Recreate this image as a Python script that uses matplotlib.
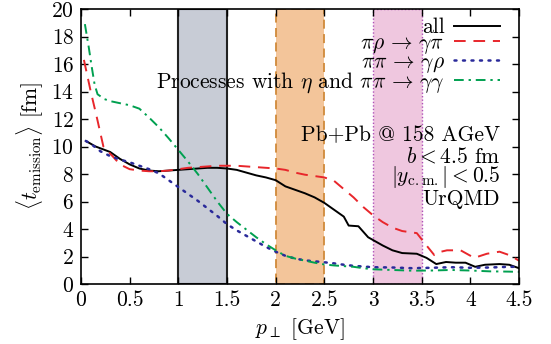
import matplotlib
matplotlib.use("Agg")
import matplotlib.pyplot as plt

plt.rcParams["font.family"] = "serif"
plt.rcParams["font.serif"] = ["cmr10"]
plt.rcParams["mathtext.fontset"] = "cm"
plt.rcParams["axes.formatter.use_mathtext"] = True
FS = 15.5
plt.rcParams["font.size"] = FS

# <t_emission> vs p_T
p_all = [0.05, 0.15, 0.3, 0.4, 0.5, 0.6, 0.7, 0.8, 0.9, 1.0, 1.1, 1.2, 1.3, 1.4, 1.5,
         1.6, 1.7, 1.8, 1.9, 2.0, 2.1, 2.2, 2.3, 2.4, 2.5, 2.6, 2.7, 2.75, 2.85, 2.95,
         3.1, 3.2, 3.3, 3.45, 3.55, 3.65, 3.75, 3.85, 3.95, 4.05, 4.15, 4.3, 4.4, 4.5]
t_all = [10.4, 10.0, 9.6, 9.1, 8.7, 8.4, 8.25, 8.2, 8.25, 8.3, 8.35, 8.4, 8.45, 8.45, 8.4,
         8.3, 8.1, 7.9, 7.75, 7.55, 7.1, 6.85, 6.6, 6.3, 5.9, 5.4, 4.9, 4.25, 4.2, 3.4,
         2.8, 2.45, 2.25, 2.2, 1.9, 1.45, 1.6, 1.55, 1.55, 1.25, 1.4, 1.45, 1.4, 1.15]

p_pirho = [0.03, 0.1, 0.16, 0.23, 0.33, 0.4, 0.5, 0.6, 0.7, 0.8, 0.9, 1.0, 1.1, 1.2, 1.3,
           1.4, 1.5, 1.6, 1.7, 1.8, 1.9, 2.0, 2.1, 2.2, 2.3, 2.4, 2.5, 2.6, 2.7, 2.8, 2.9,
           3.0, 3.1, 3.2, 3.3, 3.45, 3.55, 3.63, 3.7, 3.76, 3.9, 4.04, 4.17, 4.3, 4.4, 4.5]
t_pirho = [16.3, 14.0, 12.2, 10.0, 9.25, 8.7, 8.35, 8.25, 8.2, 8.2, 8.25, 8.35, 8.45, 8.5, 8.55,
           8.6, 8.6, 8.6, 8.55, 8.5, 8.45, 8.4, 8.3, 8.1, 7.95, 7.85, 7.75, 7.5, 6.9, 6.3, 5.6,
           5.0, 4.5, 4.1, 3.85, 3.7, 2.8, 2.1, 2.35, 2.45, 2.45, 1.9, 2.2, 2.35, 2.1, 1.7]

p_pipi = [0.05, 0.1, 0.2, 0.3, 0.4, 0.5, 0.6, 0.7, 0.8, 0.9, 1.0, 1.1, 1.2, 1.3, 1.4, 1.5,
          1.6, 1.7, 1.8, 1.9, 2.0, 2.1, 2.2, 2.3, 2.4, 2.5, 2.6, 2.7, 2.8, 2.9, 3.0, 3.2,
          3.4, 3.6, 3.8, 4.0, 4.2, 4.4, 4.5]
t_pipi = [10.4, 10.2, 9.65, 9.3, 9.05, 8.85, 8.6, 8.35, 8.05, 7.55, 7.05, 6.55, 6.05, 5.5, 4.95, 4.35,
          3.9, 3.5, 3.1, 2.7, 2.35, 2.05, 1.85, 1.72, 1.65, 1.58, 1.5, 1.4, 1.32, 1.27, 1.22, 1.2,
          1.15, 1.18, 1.22, 1.18, 1.2, 1.25, 1.25]

p_eta = [0.04, 0.08, 0.11, 0.14, 0.17, 0.24, 0.3, 0.4, 0.5, 0.6, 0.7, 0.8, 0.9, 1.0, 1.1,
         1.2, 1.3, 1.4, 1.5, 1.6, 1.7, 1.8, 1.9, 2.0, 2.1, 2.2, 2.3, 2.4, 2.5, 2.6, 2.7,
         2.8, 2.9, 3.0, 3.2, 3.4, 3.6, 3.8, 4.0, 4.2, 4.4, 4.5]
t_eta = [18.9, 17.2, 15.8, 14.5, 13.8, 13.45, 13.3, 13.15, 13.0, 12.75, 12.1, 11.4, 10.6, 9.75, 8.9,
         8.0, 7.0, 6.0, 5.1, 4.5, 3.95, 3.4, 2.9, 2.45, 2.05, 1.85, 1.7, 1.55, 1.42, 1.35, 1.3,
         1.25, 1.15, 1.07, 1.02, 0.97, 0.98, 1.02, 0.98, 0.92, 0.9, 0.88]

bands = [(1.0, 1.5), (2.0, 2.5), (3.0, 3.5)]

fig = plt.figure(figsize=(5.51, 3.44), dpi=100)
ax = fig.add_axes([81 / 551, 1 - 284 / 344, 438 / 551, 275 / 344])

ax.axvspan(*bands[0], facecolor="#c8ccd6", edgecolor="#222222", lw=1.5, zorder=0)
ax.axvspan(*bands[1], facecolor="#f3c59a", edgecolor="#d08a3a", lw=1.3,
           linestyle=(0, (5, 3)), zorder=0)
ax.axvspan(*bands[2], facecolor="#efc7df", edgecolor="#b050b8", lw=1.0,
           linestyle=(0, (1, 1.5)), zorder=0)

ax.plot(p_all, t_all, color="black", lw=1.4, label="all")
ax.plot(p_pirho, t_pirho, color="#e8262b", lw=1.4, dashes=(6, 4),
        label=r"$\pi\rho\,\rightarrow\,\gamma\pi$")
ax.plot(p_pipi, t_pipi, color="#2a2a9a", lw=1.8, dashes=(0.8, 2.6),
        dash_capstyle="round", label=r"$\pi\pi\,\rightarrow\,\gamma\rho$")
ax.plot(p_eta, t_eta, color="#00a050", lw=1.4, dashes=(5, 2.5, 1.2, 2.5),
        label=r"Processes with $\eta$ and $\pi\pi\,\rightarrow\,\gamma\gamma$")

ax.set_xlim(0, 4.5)
ax.set_ylim(0, 20)
ax.set_xticks([0, 0.5, 1, 1.5, 2, 2.5, 3, 3.5, 4, 4.5])
ax.set_xticklabels(["0", "0.5", "1", "1.5", "2", "2.5", "3", "3.5", "4", "4.5"])
ax.set_yticks(range(0, 21, 2))
ax.tick_params(direction="in", top=True, right=True, length=5, width=1,
               labelsize=FS, pad=5)
for s in ax.spines.values():
    s.set_linewidth(1.2)

ax.set_xlabel(r"$p_\perp$ [GeV]", fontsize=FS, labelpad=4)
ax.set_ylabel(r"$\langle t_{\rm emission}\rangle$ [fm]", fontsize=FS, labelpad=4)

leg = ax.legend(loc="upper right", bbox_to_anchor=(0.985, 1.015), frameon=False,
                markerfirst=False, handlelength=2.1, handletextpad=0.45,
                labelspacing=-0.18, fontsize=FS, borderaxespad=0.2)
for t in leg.get_texts():
    t.set_ha("right")
leg._legend_box.align = "right"

# run info, right aligned, baselines
info = ["Pb+Pb @ 158 AGeV", r"$b<4.5$ fm", r"$|y_{\rm c.m.}|<0.5$", "UrQMD"]
info_y = [0.52, 0.443, 0.372, 0.287]
for s, yy in zip(info, info_y):
    ax.text(0.957, yy, s, transform=ax.transAxes, ha="right",
            va="baseline", fontsize=FS)

fig.savefig("out.png", dpi=100)
